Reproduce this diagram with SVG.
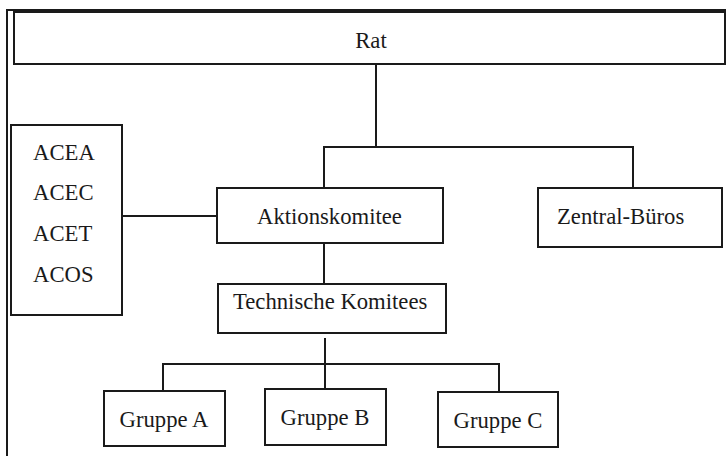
<svg xmlns="http://www.w3.org/2000/svg" width="726" height="456" viewBox="0 0 726 456">
  <style>
    .box { fill: #ffffff; stroke: #1a1a1a; stroke-width: 2; }
    .line { fill: none; stroke: #1a1a1a; stroke-width: 2; }
    .label { font-family: "Liberation Serif", "Times New Roman", serif; font-size: 22.7px; fill: #1a1a1a; }
  </style>
  <rect x="0" y="0" width="726" height="456" fill="#ffffff"/>

  <!-- outer frame -->
  <path class="line" d="M7,456 V10 H726"/>

  <g id="connectors">
    <!-- Rat to second level -->
    <path class="line" d="M376,64 V147"/>
    <path class="line" d="M324,188 V147 H633 V188"/>
    <!-- ACE group to Aktionskomitee -->
    <path class="line" d="M122,216 H217"/>
    <!-- Aktionskomitee to Technische Komitees -->
    <path class="line" d="M324,243 V284"/>
    <!-- Technische Komitees to groups -->
    <path class="line" d="M325,338 V390"/>
    <path class="line" d="M163,391 V364 H499 V392"/>
  </g>

  <g id="rat">
    <rect class="box" x="14" y="12" width="711" height="52"/>
    <text class="label" x="371" y="48" text-anchor="middle">Rat</text>
  </g>

  <g id="ace">
    <rect class="box" x="11" y="125" width="111" height="190"/>
    <text class="label" x="33" y="160">ACEA</text>
    <text class="label" x="33" y="200">ACEC</text>
    <text class="label" x="33" y="241">ACET</text>
    <text class="label" x="33" y="282">ACOS</text>
  </g>

  <g id="aktionskomitee">
    <rect class="box" x="217" y="188" width="226" height="55"/>
    <text class="label" x="257" y="224">Aktionskomitee</text>
  </g>

  <g id="zentral-bueros">
    <rect class="box" x="538" y="188" width="184" height="59"/>
    <text class="label" x="557" y="224">Zentral-Büros</text>
  </g>

  <g id="technische-komitees">
    <rect class="box" x="218" y="284" width="228" height="49"/>
    <text class="label" x="233" y="309">Technische Komitees</text>
  </g>

  <g id="gruppe-a">
    <rect class="box" x="104" y="391" width="121" height="55"/>
    <text class="label" x="164" y="427" text-anchor="middle">Gruppe A</text>
  </g>

  <g id="gruppe-b">
    <rect class="box" x="265" y="389" width="121" height="56"/>
    <text class="label" x="325" y="425" text-anchor="middle">Gruppe B</text>
  </g>

  <g id="gruppe-c">
    <rect class="box" x="438" y="392" width="120" height="55"/>
    <text class="label" x="498" y="428" text-anchor="middle">Gruppe C</text>
  </g>
</svg>
